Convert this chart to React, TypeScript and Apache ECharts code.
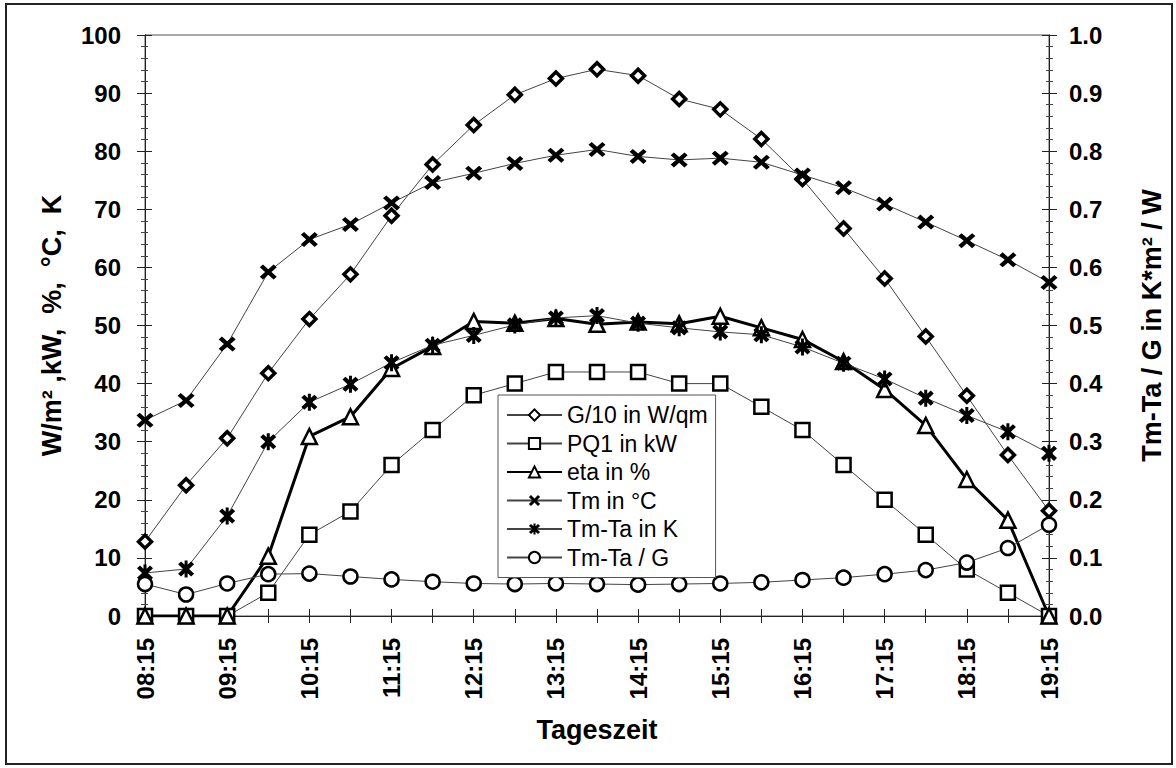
import React, { useEffect, useRef } from "react";
import * as echarts from "echarts";

// Half-hourly readings, 08:15 to 19:15
const times = [
  "08:15", "08:45", "09:15", "09:45", "10:15", "10:45", "11:15", "11:45",
  "12:15", "12:45", "13:15", "13:45", "14:15", "14:45", "15:15", "15:45",
  "16:15", "16:45", "17:15", "17:45", "18:15", "18:45", "19:15",
];
const g10 = [12.8, 22.5, 30.6, 41.8, 51.1, 58.8, 68.9, 77.7, 84.5, 89.7, 92.5, 94.1, 93.0, 89.0, 87.2, 82.1, 75.2, 66.7, 58.1, 48.1, 37.9, 27.7, 18.1];
const pq1 = [0, 0, 0, 4, 14, 18, 26, 32, 38, 40, 42, 42, 42, 40, 40, 36, 32, 26, 20, 14, 8, 4, 0];
const eta = [0, 0, 0, 10.3, 30.9, 34.3, 42.6, 46.4, 50.7, 50.4, 51.2, 50.2, 50.6, 50.3, 51.6, 49.6, 47.6, 43.8, 39.0, 32.8, 23.5, 16.5, 0];
const tm = [33.7, 37.1, 46.8, 59.2, 64.8, 67.4, 71.1, 74.6, 76.2, 77.9, 79.3, 80.3, 79.1, 78.5, 78.8, 78.1, 75.9, 73.7, 70.9, 67.8, 64.6, 61.3, 57.4];
const tmTa = [7.4, 8.1, 17.2, 30.0, 36.8, 39.9, 43.6, 46.6, 48.3, 50.1, 51.3, 51.7, 50.4, 49.6, 48.9, 48.4, 46.3, 43.5, 40.8, 37.5, 34.5, 31.7, 28.0];
const tmTaPerG = [0.055, 0.037, 0.056, 0.072, 0.073, 0.068, 0.063, 0.059, 0.056, 0.055, 0.056, 0.055, 0.054, 0.055, 0.056, 0.058, 0.062, 0.066, 0.072, 0.079, 0.092, 0.117, 0.157];

const FONT = "'Liberation Sans', Arial, sans-serif";
const THIN = "#444";

// Filled cross and asterisk marker outlines
const CROSS_PATH =
  "path://M3,0 L8,5 L13,0 L16,3 L11,8 L16,13 L13,16 L8,11 L3,16 L0,13 L5,8 L0,3 Z";
const STAR_PATH =
  "path://M3,0 L8,5 L13,0 L16,3 L11,8 L16,13 L13,16 L8,11 L3,16 L0,13 L5,8 L0,3 Z M6.5,-1 L9.5,-1 L9.5,17 L6.5,17 Z";

const hollow = (w: number) => ({ color: "#fff", borderColor: "#000", borderWidth: w });

export default function App() {
  const ref = useRef<HTMLDivElement>(null);

  useEffect(() => {
    if (!ref.current) return;
    const chart = echarts.init(ref.current, undefined, { renderer: "svg" });

    const tickLabel = { fontFamily: FONT, fontSize: 24, fontWeight: "bold" as const, color: "#000" };
    const nameStyle = { fontFamily: FONT, fontSize: 27, fontWeight: "bold" as const, color: "#000" };
    const axisLine = { show: true, lineStyle: { color: "#222", width: 1 } };

    chart.setOption({
      animation: false,
      backgroundColor: "#fff",
      graphic: [
        {
          type: "rect",
          shape: { x: 6, y: 4, width: 1166, height: 760 },
          style: { fill: "none", stroke: "#222", lineWidth: 2 },
          silent: true,
        },
      ],
      grid: {
        left: 145,
        right: 127,
        top: 35,
        bottom: 152,
        show: true,
        borderColor: "#555",
        borderWidth: 1,
      },
      legend: {
        orient: "vertical",
        left: 498,
        top: 395,
        padding: [8, 8, 8, 8],
        itemWidth: 55,
        itemHeight: 14,
        itemGap: 4.5,
        backgroundColor: "#fff",
        borderColor: "#555",
        borderWidth: 1,
        textStyle: { fontFamily: FONT, fontSize: 23, color: "#000", lineHeight: 24 },
        data: ["G/10 in W/qm", "PQ1 in kW", "eta in %", "Tm in °C", "Tm-Ta in K", "Tm-Ta / G"],
      },
      xAxis: [
        {
          type: "category",
          data: times,
          boundaryGap: false,
          position: "bottom",
          axisLine,
          axisTick: { show: true, interval: 0, length: 7, lineStyle: { color: "#222" } },
          axisLabel: { ...tickLabel, rotate: 90, interval: 1, margin: 22 },
          splitLine: { show: false },
          name: "Tageszeit",
          nameLocation: "middle",
          nameGap: 100,
          nameTextStyle: nameStyle,
        },
        {
          type: "category",
          data: times,
          boundaryGap: false,
          position: "bottom",
          axisLine,
          axisTick: { show: true, inside: true, interval: 0, length: 7, lineStyle: { color: "#222" } },
          axisLabel: { show: false },
          splitLine: { show: false },
        },
      ],
      yAxis: [
        {
          type: "value",
          position: "left",
          min: 0,
          max: 100,
          interval: 10,
          axisLine,
          axisTick: { show: true, length: 8, lineStyle: { color: "#222" } },
          minorTick: { show: true, splitNumber: 5, length: 4, lineStyle: { color: "#444" } },
          axisLabel: { ...tickLabel, margin: 24 },
          splitLine: { show: false },
          name: "W/m² ,kW,  %,  °C,  K",
          nameLocation: "middle",
          nameRotate: 90,
          nameGap: 80,
          nameTextStyle: nameStyle,
        },
        {
          type: "value",
          position: "right",
          min: 0,
          max: 1,
          interval: 0.1,
          axisLine,
          axisTick: { show: true, length: 8, lineStyle: { color: "#222" } },
          minorTick: { show: true, splitNumber: 5, length: 4, lineStyle: { color: "#444" } },
          axisLabel: { ...tickLabel, margin: 20, formatter: (v: number) => v.toFixed(1) },
          splitLine: { show: false },
          name: "Tm-Ta / G in K*m² / W",
          nameLocation: "middle",
          nameRotate: 90,
          nameGap: 89,
          nameTextStyle: nameStyle,
        },
        {
          type: "value",
          position: "left",
          min: 0,
          max: 100,
          interval: 10,
          axisLine,
          axisTick: { show: true, inside: true, length: 7, lineStyle: { color: "#222" } },
          minorTick: { show: true, splitNumber: 5, length: 3, lineStyle: { color: "#444" } },
          axisLabel: { show: false },
          splitLine: { show: false },
        },
        {
          type: "value",
          position: "right",
          min: 0,
          max: 1,
          interval: 0.1,
          axisLine,
          axisTick: { show: true, inside: true, length: 7, lineStyle: { color: "#222" } },
          minorTick: { show: true, splitNumber: 5, length: 3, lineStyle: { color: "#444" } },
          axisLabel: { show: false },
          splitLine: { show: false },
        },
      ],
      series: [
        {
          name: "G/10 in W/qm",
          type: "line",
          data: g10,
          symbol: "diamond",
          symbolSize: 13,
          itemStyle: hollow(3.5),
          lineStyle: { color: THIN, width: 1 },
        },
        {
          name: "PQ1 in kW",
          type: "line",
          data: pq1,
          symbol: "rect",
          symbolSize: 14,
          itemStyle: hollow(2.5),
          lineStyle: { color: THIN, width: 1 },
        },
        {
          name: "eta in %",
          type: "line",
          data: eta,
          symbol: "triangle",
          symbolSize: 15,
          itemStyle: hollow(2.5),
          lineStyle: { color: "#000", width: 3 },
        },
        {
          name: "Tm in °C",
          type: "line",
          data: tm,
          symbol: CROSS_PATH,
          symbolSize: [17, 15],
          itemStyle: { color: "#000", borderWidth: 0 },
          lineStyle: { color: THIN, width: 1 },
        },
        {
          name: "Tm-Ta in K",
          type: "line",
          data: tmTa,
          symbol: STAR_PATH,
          symbolSize: [16, 17],
          itemStyle: { color: "#000", borderWidth: 0 },
          lineStyle: { color: THIN, width: 1 },
        },
        {
          name: "Tm-Ta / G",
          type: "line",
          yAxisIndex: 1,
          data: tmTaPerG,
          symbol: "circle",
          symbolSize: 14,
          itemStyle: hollow(2.5),
          lineStyle: { color: THIN, width: 1 },
        },
      ],
    });

    return () => chart.dispose();
  }, []);

  return (
    <div
      ref={ref}
      style={{ position: "fixed", left: 0, top: 0, width: 1176, height: 768, background: "#fff" }}
    />
  );
}
